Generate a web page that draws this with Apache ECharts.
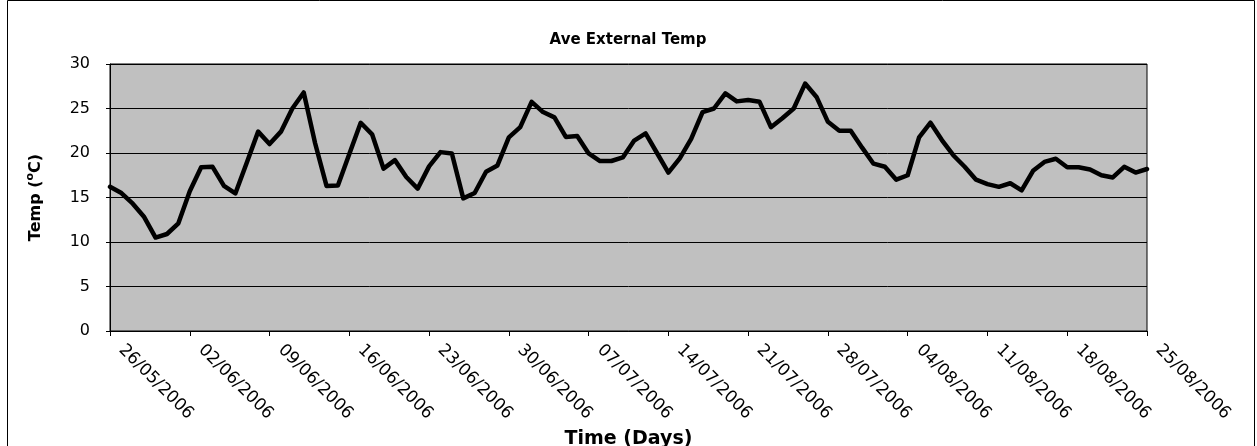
<!DOCTYPE html>
<html>
<head>
<meta charset="utf-8">
<script src="https://cdn.jsdelivr.net/npm/echarts@6/dist/echarts.min.js"></script>
<style>
  html, body { margin: 0; padding: 0; background: #fff; }
  #chart { width: 1257px; height: 446px; }
</style>
</head>
<body>
<div id="chart"></div>
<script>
// Daily average external temperature, 26/05/2006 to 25/08/2006
const startDate = [2006, 4, 26];   // year, month (0-based), day
const dayCount = 92;
const tempC = [
  16.2, 15.5, 14.3, 12.8, 10.5, 10.9, 12.1, 15.7, 18.4, 18.45,
  16.3, 15.45, 18.9, 22.4, 21.0, 22.4, 25.0, 26.8, 21.1, 16.3,
  16.35, 19.9, 23.4, 22.1, 18.25, 19.2, 17.3, 16.0, 18.5, 20.1,
  19.95, 14.9, 15.5, 17.9, 18.6, 21.75, 22.9, 25.75, 24.6, 24.0,
  21.8, 21.9, 19.95, 19.1, 19.1, 19.5, 21.4, 22.2, 20.0, 17.8,
  19.4, 21.6, 24.6, 25.0, 26.7, 25.8, 25.95, 25.75, 22.9, 23.9,
  25.0, 27.8, 26.3, 23.5, 22.5, 22.5, 20.6, 18.8, 18.45, 17.0,
  17.5, 21.75, 23.4, 21.45, 19.75, 18.45, 17.0, 16.5, 16.2, 16.6,
  15.8, 18.0, 19.0, 19.35, 18.4, 18.4, 18.15, 17.5, 17.25, 18.45,
  17.8, 18.2
];
const yTicks = [0, 5, 10, 15, 20, 25, 30];

// Category labels: one per day, dd/mm/yyyy
const pad = n => (n < 10 ? '0' : '') + n;
const days = [];
for (let i = 0; i < dayCount; i++) {
  const d = new Date(startDate[0], startDate[1], startDate[2] + i);
  days.push(pad(d.getDate()) + '/' + pad(d.getMonth() + 1) + '/' + d.getFullYear());
}

const font = '"DejaVu Sans", "Liberation Sans", sans-serif';
const chart = echarts.init(document.getElementById('chart'), null, { renderer: 'canvas' });

chart.setOption({
  animation: false,
  backgroundColor: '#ffffff',
  title: {
    text: 'Ave External Temp',
    left: 623, top: 28, textAlign: 'center',
    textStyle: { fontFamily: font, fontWeight: 'bold', fontSize: 15, color: '#000' }
  },
  grid: {
    left: 110, right: 110, top: 64, bottom: 115,
    containLabel: false, outerBoundsMode: 'none',
    show: true, backgroundColor: '#c0c0c0', borderColor: '#000', borderWidth: 1
  },
  xAxis: {
    type: 'category',
    data: days,
    boundaryGap: false,
    name: 'Time (Days)',
    nameLocation: 'middle',
    nameGap: 93,
    nameTextStyle: { fontFamily: font, fontWeight: 'bold', fontSize: 19, color: '#000' },
    axisLine: { lineStyle: { color: '#000', width: 1 } },
    axisTick: { interval: 6, length: 5, lineStyle: { color: '#000' } },
    axisLabel: {
      interval: 6, rotate: -45, margin: 5, padding: [0, 0, 0, 16],
      fontFamily: font, fontSize: 17, color: '#000'
    },
    splitLine: { show: false }
  },
  yAxis: {
    type: 'value',
    min: yTicks[0], max: yTicks[yTicks.length - 1], interval: 5,
    name: '{t|Temp (}{s|o}{t|C)}',
    nameLocation: 'middle',
    nameRotate: 90,
    nameGap: 64,
    nameTextStyle: {
      rich: {
        t: { fontFamily: font, fontWeight: 'bold', fontSize: 16, color: '#000' },
        s: { fontFamily: font, fontWeight: 'bold', fontSize: 11, color: '#000', padding: [0, 0, 10, 0] }
      }
    },
    axisLine: { show: true, lineStyle: { color: '#000', width: 1 } },
    axisTick: { show: true, length: 4, lineStyle: { color: '#000' } },
    axisLabel: { margin: 20, fontFamily: font, fontSize: 16, color: '#000' },
    splitLine: { show: true, lineStyle: { color: '#000', width: 1 } }
  },
  graphic: [{
    type: 'rect',
    shape: { x: 7.5, y: 0.5, width: 1247, height: 450 },
    style: { fill: 'none', stroke: '#000', lineWidth: 1 },
    silent: true
  }],
  series: [{
    type: 'line',
    data: tempC,
    showSymbol: false,
    symbol: 'none',
    lineStyle: { color: '#000', width: 4.5, join: 'round', cap: 'round' }
  }]
});
</script>
</body>
</html>
